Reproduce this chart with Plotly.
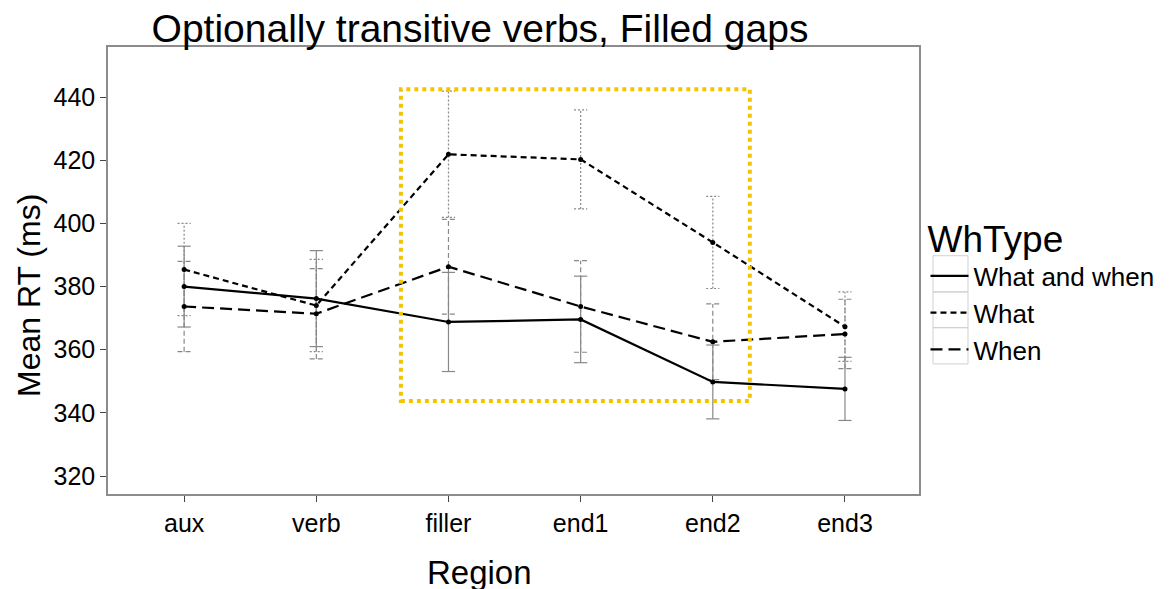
import plotly.graph_objects as go

regions = ["aux", "verb", "filler", "end1", "end2", "end3"]
what_and_when = [380.0, 376.2, 368.8, 369.6, 349.8, 347.6]
what_and_when_se = [12.8, 15.2, 15.7, 13.7, 11.7, 10.0]
what = [385.4, 374.0, 421.9, 420.3, 394.0, 367.3]
what_se = [14.6, 14.6, 20.0, 15.7, 14.6, 11.0]
when = [373.7, 371.4, 386.3, 373.7, 362.5, 365.0]
when_se = [14.3, 14.3, 15.0, 14.5, 12.0, 11.0]

series = [
    ("What and when", what_and_when, what_and_when_se, "solid", "solid"),
    ("What", what, what_se, "6px,4px", "2px,2px"),
    ("When", when, when_se, "12px,6px", "5px,3px"),
]

xi = list(range(len(regions)))
CAP = 0.05
FONT = "Liberation Sans, Arial, sans-serif"

fig = go.Figure()

# error bars drawn as line segments from mean +/- se
for name, vals, se, ldash, edash in series:
    ex, ey = [], []
    for i, (m, s) in enumerate(zip(vals, se)):
        lo, hi = m - s, m + s
        ex += [i, i, None, i - CAP, i + CAP, None, i - CAP, i + CAP, None]
        ey += [lo, hi, None, hi, hi, None, lo, lo, None]
    fig.add_trace(go.Scatter(x=ex, y=ey, mode="lines", showlegend=False,
                             hoverinfo="skip",
                             line=dict(color="#888888", width=1.2, dash=edash)))

for name, vals, se, ldash, edash in series:
    fig.add_trace(go.Scatter(x=xi, y=vals, mode="lines", name=name, legendgroup=name,
                             line=dict(color="black", width=2.2, dash=ldash)))
    fig.add_trace(go.Scatter(x=xi, y=vals, mode="markers", name=name, legendgroup=name,
                             showlegend=False, marker=dict(color="black", size=5)))

# highlighted region box
fig.add_shape(type="rect", xref="x", yref="y", x0=1.64, x1=4.28, y0=343.8, y1=442.5,
              line=dict(color="#F5C400", width=4, dash="dot"), fillcolor="rgba(0,0,0,0)")

# legend key boxes
rows = [0.533, 0.452, 0.372, 0.291]
for k in range(3):
    fig.add_shape(type="rect", xref="paper", yref="paper", x0=1.0173, x1=1.0604,
                  y0=rows[k + 1], y1=rows[k], line=dict(color="#d0d0d0", width=1),
                  fillcolor="rgba(0,0,0,0)", layer="below")

fig.add_annotation(text="Mean RT (ms)", xref="paper", yref="paper", x=-0.0975, y=0.445,
                   xanchor="center", yanchor="middle", textangle=-90, showarrow=False,
                   font=dict(size=32, family=FONT))
fig.add_annotation(text="Region", xref="paper", yref="paper", x=0.4575, y=-0.1745,
                   xanchor="center", yanchor="middle", showarrow=False,
                   font=dict(size=33, family=FONT))

fig.update_layout(
    width=1176, height=589,
    margin=dict(l=100, r=265, t=39, b=103),
    paper_bgcolor="white", plot_bgcolor="white",
    font=dict(family=FONT, color="black", size=25),
    title=dict(text="Optionally transitive verbs, Filled gaps", x=472 / 1176, xanchor="center",
               y=1 - 20 / 589, yanchor="middle", font=dict(size=39, family=FONT)),
    xaxis=dict(range=[-0.576, 5.56], tickvals=xi, ticktext=regions,
               showline=True, mirror=True, linecolor="#8c8c8c", linewidth=1.5,
               ticks="outside", ticklen=6, tickcolor="#444444", showgrid=False, zeroline=False,
               tickfont=dict(size=25), automargin=False),
    yaxis=dict(range=[314.3, 455.9], tickvals=[320, 340, 360, 380, 400, 420, 440],
               showline=True, mirror=True, linecolor="#8c8c8c", linewidth=1.5,
               ticks="outside", ticklen=6, tickcolor="#444444", showgrid=False, zeroline=False,
               tickfont=dict(size=25), automargin=False),
    legend=dict(title=dict(text="WhType", font=dict(size=37)), x=1.008, y=0.648,
                xanchor="left", yanchor="top", font=dict(size=26), tracegroupgap=0,
                itemwidth=38, bgcolor="rgba(0,0,0,0)"),
)

fig.write_html("out.html")
